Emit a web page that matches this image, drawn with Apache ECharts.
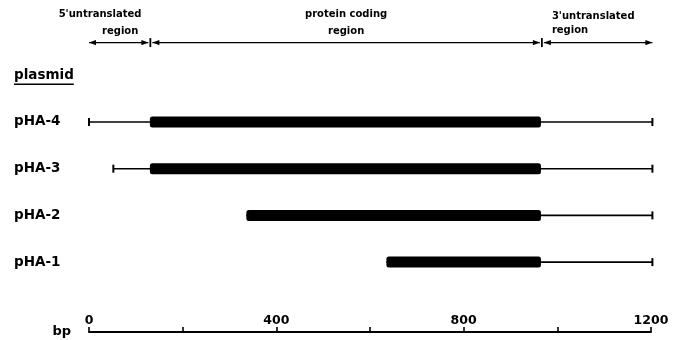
<!DOCTYPE html>
<html><head><meta charset="utf-8">
<script src="https://cdn.jsdelivr.net/npm/echarts@6/dist/echarts.min.js"></script>
<style>html,body{margin:0;padding:0;background:#fff}#c{width:676px;height:340px}</style>
</head><body><div id="c"></div>
<script>
// ---- data (bp) ----
const plasmids    = ['pHA-4', 'pHA-3', 'pHA-2', 'pHA-1'];
const cloneStart  = [0, 52, 336, 635];
const codingStart = [130, 130, 336, 635];
const codingEnd   = [965, 965, 965, 965];
const cloneEnd    = [1203, 1203, 1203, 1203];
const regionNames  = [["5'untranslated", 'region'], ['protein coding', 'region'], ["3'untranslated", 'region']];
const regionBounds = [0, 131, 967, 1203];
const xTickLabels  = [0, 400, 800, 1200];
const axisName = 'bp';
const headerName = 'plasmid';

// ---- layout constants (value-axis rows) ----
const ARROW_ROW = -0.70;
const HEADER_ROW = 0;
const FONT = 'DejaVu Sans';

const rowData = plasmids.map((p, i) => [i + 1, cloneStart[i], codingStart[i], codingEnd[i], cloneEnd[i]]);

function renderRow(params, api) {
  const i = params.dataIndex;
  const row = api.value(0);
  const y = api.coord([0, row])[1];
  const xs = api.coord([api.value(1), row])[0];
  const xcs = api.coord([api.value(2), row])[0];
  const xce = api.coord([api.value(3), row])[0];
  const xe = api.coord([api.value(4), row])[0];
  const ch = [
    { type: 'line', shape: { x1: xs, y1: y, x2: xe, y2: y }, style: { stroke: '#000', lineWidth: 1.6 } },
    { type: 'rect', shape: { x: xcs, y: y - 5.5, width: xce - xcs, height: 11, r: 2.5 }, style: { fill: '#000' } },
    { type: 'line', shape: { x1: xe, y1: y - 4, x2: xe, y2: y + 4 }, style: { stroke: '#000', lineWidth: 2 } },
    { type: 'text', x: 14, y: y, style: { text: plasmids[i], fill: '#000', fontFamily: FONT, fontWeight: 'bold', fontSize: 13.5, verticalAlign: 'middle', align: 'left' } }
  ];
  if (xs < xcs - 1) {
    ch.push({ type: 'line', shape: { x1: xs, y1: y - 4, x2: xs, y2: y + 4 }, style: { stroke: '#000', lineWidth: 2 } });
  }
  return { type: 'group', children: ch };
}

function measure(text, font) {
  const c = document.createElement('canvas').getContext('2d');
  c.font = font;
  return c.measureText(text).width;
}

function renderHeader(params, api) {
  const y = api.coord([0, ARROW_ROW])[1];
  const xb = regionBounds.map(b => api.coord([b, ARROW_ROW])[0]);
  const ch = [];
  for (let k = 0; k < 3; k++) {
    const a = xb[k] + (k > 0 ? 2 : 0), b = xb[k + 1] - (k < 2 ? 2 : 0);
    ch.push({ type: 'line', shape: { x1: a, y1: y, x2: b, y2: y }, style: { stroke: '#000', lineWidth: 1.4 } });
    ch.push({ type: 'polygon', shape: { points: [[a, y], [a + 7, y - 2.6], [a + 7, y + 2.6]] }, style: { fill: '#000' } });
    ch.push({ type: 'polygon', shape: { points: [[b, y], [b - 7, y - 2.6], [b - 7, y + 2.6]] }, style: { fill: '#000' } });
  }
  for (let k = 1; k < 3; k++) {
    ch.push({ type: 'line', shape: { x1: xb[k], y1: y - 4.5, x2: xb[k], y2: y + 4.5 }, style: { stroke: '#000', lineWidth: 1.8 } });
  }
  const ts = (text, x, yy, align) => ({ type: 'text', x: x, y: yy, style: { text: text, fill: '#000', fontFamily: FONT, fontWeight: 'bold', fontSize: 10, align: align, verticalAlign: 'middle' } });
  ch.push(ts(regionNames[0][0], xb[1] - 9, y - 28, 'right'));
  ch.push(ts(regionNames[0][1], xb[1] - 12, y - 11, 'right'));
  const mid = (xb[1] + xb[2]) / 2;
  ch.push(ts(regionNames[1][0], mid, y - 28, 'center'));
  ch.push(ts(regionNames[1][1], mid, y - 11, 'center'));
  ch.push(ts(regionNames[2][0], xb[2] + 10, y - 26.5, 'left'));
  ch.push(ts(regionNames[2][1], xb[2] + 10, y - 12.5, 'left'));

  const yh = api.coord([0, HEADER_ROW])[1];
  const w = measure(headerName, 'bold 13.5px "DejaVu Sans"');
  ch.push({ type: 'text', x: 14, y: yh, style: { text: headerName, fill: '#000', fontFamily: FONT, fontWeight: 'bold', fontSize: 13.5, align: 'left', verticalAlign: 'middle' } });
  ch.push({ type: 'line', shape: { x1: 14, y1: yh + 9, x2: 14 + w, y2: yh + 9 }, style: { stroke: '#000', lineWidth: 1.4 } });
  return { type: 'group', children: ch };
}

const chart = echarts.init(document.getElementById('c'), null, { renderer: 'canvas' });
chart.setOption({
  backgroundColor: '#fff',
  animation: false,
  grid: { left: 89, right: 25, top: 0, bottom: 8 },
  xAxis: {
    type: 'value', min: 0, max: 1200, interval: 200, position: 'bottom',
    name: axisName, nameLocation: 'start', nameGap: 18,
    nameTextStyle: { color: '#000', fontFamily: FONT, fontWeight: 'bold', fontSize: 13, align: 'right', verticalAlign: 'middle', padding: [0, 0, 3, 0] },
    axisLine: { show: true, onZero: false, lineStyle: { color: '#000', width: 2 } },
    axisTick: { show: true, inside: true, length: 5, lineStyle: { color: '#000', width: 1.6 } },
    axisLabel: { inside: true, margin: 5, color: '#000', fontFamily: FONT, fontWeight: 'bold', fontSize: 12.5, formatter: v => xTickLabels.includes(v) ? String(v) : '' },
    splitLine: { show: false }
  },
  yAxis: { type: 'value', inverse: true, min: -1.612, max: 5.497, show: false },
  series: [
    { type: 'custom', renderItem: renderRow, data: rowData, silent: true },
    { type: 'custom', renderItem: renderHeader, data: [[0, 0]], silent: true }
  ]
});
</script></body></html>
